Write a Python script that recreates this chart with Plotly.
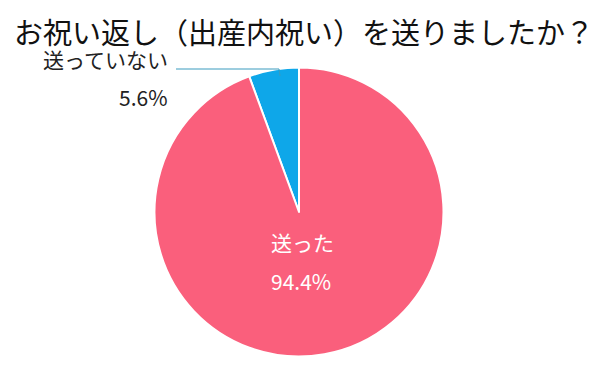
import plotly.graph_objects as go

title_text = "お祝い返し（出産内祝い）を送りましたか？"
labels = ["送っていない", "送った"]
values = [5.6, 94.4]
colors = ["#0EA7E9", "#FA5F7C"]

FONT = "Noto Sans CJK JP"

fig = go.Figure(go.Pie(
    labels=labels,
    values=values,
    sort=False,
    direction="clockwise",
    rotation=-values[0] / sum(values) * 360,
    marker=dict(colors=colors, line=dict(color="white", width=2)),
    textinfo="none",
    hoverinfo="label+percent",
    domain=dict(x=[0.2442, 0.7258], y=[0.0581, 0.8392]),
    showlegend=False,
))

fmt = lambda v: f"{v:.1f}%"

def ann(text, px, py, anchor, size, color, yanchor="middle"):
    return dict(text=text, x=px / 600, y=1 - py / 370, xref="paper", yref="paper",
                xanchor=anchor, yanchor=yanchor, showarrow=False,
                font=dict(family=FONT, size=size, color=color))

annotations = [
    ann(title_text, 296, 0, "center", 29, "#111111", yanchor="top"),
    ann(labels[1], 261, 234, "left", 21, "white"),
    ann(fmt(values[1]), 261, 273, "left", 21, "white"),
    ann(labels[0], 162, 51, "right", 21, "#222222"),
    ann(fmt(values[0]), 162, 89, "right", 21, "#222222"),
]

shapes = [
    dict(type="path", xref="paper", yref="paper",
         path=f"M {168/600} {1-61/370} L {271/600} {1-61/370} L {272/600} {1-68/370}",
         line=dict(color="#3A9BBE", width=1)),
]

fig.update_layout(
    width=600, height=370,
    margin=dict(l=0, r=0, t=0, b=0),
    paper_bgcolor="white",
    plot_bgcolor="white",
    annotations=annotations,
    shapes=shapes,
    font=dict(family=FONT),
)

fig.write_html("out.html")
